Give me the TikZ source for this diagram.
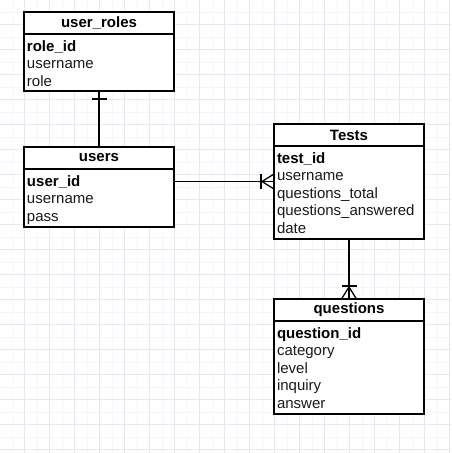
\documentclass[tikz,border=0pt]{standalone}
\usepackage{fontspec}
\setmainfont{Liberation Sans}
\usetikzlibrary{calc}
\definecolor{gridmaj}{HTML}{E8E7F0}
\definecolor{gridmin}{HTML}{F6F5FA}
\definecolor{txt}{HTML}{1A1A1A}
\begin{document}
\begin{tikzpicture}[x=1pt,y=-1pt,
  tabhead/.style={draw=black,line width=1.25pt,fill=white,minimum width=150pt,minimum height=22pt,
    inner sep=0pt,outer sep=0pt,anchor=north west,font=\fontsize{15}{18}\selectfont\bfseries},
  tabbody/.style={draw=black,line width=1.25pt,fill=white,minimum width=150pt,
    inner sep=0pt,outer sep=0pt,anchor=north west},
  fld/.style={anchor=base west,inner sep=0pt,outer sep=0pt,text=txt,font=\fontsize{15}{18}\selectfont},
  key/.style={fld,text=black,font=\fontsize{15}{18}\selectfont\bfseries},
  conn/.style={draw=black,line width=1.25pt}]
\useasboundingbox (0,0) rectangle (451,453);
\fill[white] (0,0) rectangle (451,453);
\foreach \k in {0,...,18}{
  \draw[gridmin,line width=1pt] (12+25*\k,0) -- (12+25*\k,453);
  \draw[gridmin,line width=1pt] (0,12+25*\k) -- (451,12+25*\k);
}
\foreach \k in {0,...,18}{
  \draw[gridmaj,line width=1pt] (24+25*\k,0) -- (24+25*\k,453);
  \draw[gridmaj,line width=1pt] (0,24+25*\k) -- (451,24+25*\k);
}
% user_roles
\node[tabhead] (urh) at (24,12) {user\_roles};
\node[tabbody,minimum height=57pt] (urb) at (urh.south west) {};
\node[key] (urf1) at (27,51) {role\_id};
\node[fld] (urf2) at (27,68.5) {username};
\node[fld] (urf3) at (27,86) {role};
% users
\node[tabhead] (ush) at (24,147) {users};
\node[tabbody,minimum height=58pt] (usb) at (ush.south west) {};
\node[key] (usf1) at (27,186) {user\_id};
\node[fld] (usf2) at (27,203.5) {username};
\node[fld] (usf3) at (27,221) {pass};
% Tests
\node[tabhead] (tsh) at (274,124) {Tests};
\node[tabbody,minimum height=93pt] (tsb) at (tsh.south west) {};
\node[key] (tsf1) at (277,163) {test\_id};
\node[fld] (tsf2) at (277,180.5) {username};
\node[fld] (tsf3) at (277,198) {questions\_total};
\node[fld] (tsf4) at (277,215.5) {questions\_answered};
\node[fld] (tsf5) at (277,233) {date};
% questions
\node[tabhead] (qh) at (274,299) {questions};
\node[tabbody,minimum height=93pt] (qb) at (qh.south west) {};
\node[key] (qf1) at (277,338) {question\_id};
\node[fld] (qf2) at (277,355.5) {category};
\node[fld] (qf3) at (277,373) {level};
\node[fld] (qf4) at (277,390.5) {inquiry};
\node[fld] (qf5) at (277,408) {answer};
% user_roles -- users
\draw[conn] (urb.south) -- (ush.north);
\draw[conn] ($(urb.south)+(-7.5,8)$) -- ($(urb.south)+(7.5,8)$);
% users -- Tests
\coordinate (usr1) at (24,181.5);
\coordinate (tsin) at (tsb.west |- usr1);
\draw[conn] (usb.east |- usr1) -- (tsin);
\draw[conn] ($(tsin)+(-13,-7.5)$) -- ($(tsin)+(-13,7.5)$);
\draw[conn,line join=miter] ($(tsin)+(0,-7.5)$) -- ($(tsin)+(-12,0)$) -- ($(tsin)+(0,7.5)$);
% Tests -- questions
\draw[conn] (tsb.south) -- (qh.north);
\draw[conn] ($(qh.north)+(-7.5,-13)$) -- ($(qh.north)+(7.5,-13)$);
\draw[conn,line join=miter] ($(qh.north)+(-7.5,0)$) -- ($(qh.north)+(0,-12)$) -- ($(qh.north)+(7.5,0)$);
\end{tikzpicture}
\end{document}
